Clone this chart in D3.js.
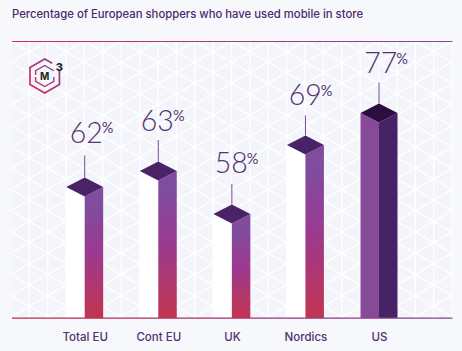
<!DOCTYPE html>
<html>
<head>
<meta charset="utf-8">
<script src="https://cdn.jsdelivr.net/npm/d3@7"></script>
<style>
  html, body { margin: 0; padding: 0; background: #f7f8fb; }
  svg { display: block; }
  .title { font: 500 11.3px "Inter", sans-serif; fill: #4b2a6c; }
  .value { font-family: "Lato", sans-serif; font-weight: 300; font-size: 28.5px; fill: #54336f; }
  .value tspan { font-size: 14.5px; font-weight: 400; }
  .axis text { font: 500 11.5px "Inter", sans-serif; fill: #4f3170; }
  .axis path, .axis line { display: none; }
</style>
</head>
<body>
<svg width="462" height="351"></svg>
<script>
const titleText = "Percentage of European shoppers who have used mobile in store";
const categories = ["Total EU", "Cont EU", "UK", "Nordics", "US"];
const values = [62, 63, 58, 69, 77];
const highlight = "US";

const plot = { left: 12, right: 452.5, top: 42, bottom: 318 };
const halfW = 18.5, halfH = 9.5;
// hand placed in the artwork, so each label has its own offset from the bar centre / top
const labelDx = [6.8, 4.4, 4.7, 5.2, 7];
const labelDy = [35, 31, 31.5, 30.5, 30.5];
const stemLen = [22, 21.5, 20.5, 20, 21];

const svg = d3.select("svg");
const defs = svg.append("defs");

// the artwork isn't drawn to scale, so the bar heights follow a piecewise scale
const y = d3.scaleLinear()
  .domain([0, 58, 62, 63, 69, 77])
  .range([plot.bottom, 214, 187, 171, 145, 113]);
const x = d3.scalePoint().domain(categories).range([84.7, 379]);

// gradients
const barGrad = defs.append("linearGradient")
  .attr("id", "barGrad").attr("x1", 0).attr("y1", 0).attr("x2", 0).attr("y2", 1);
[[0.15, "#7f4c9e"], [0.5, "#9b3a90"], [1, "#c2344f"]].forEach(([o, c]) =>
  barGrad.append("stop").attr("offset", o).attr("stop-color", c));

const ruleColor = d3.scaleLinear()
  .domain([plot.left, (plot.left + plot.right) / 2, plot.right])
  .range(["#c4344c", "#a63a78", "#84489c"]);

const logoGrad = defs.append("linearGradient")
  .attr("id", "logoGrad").attr("gradientUnits", "userSpaceOnUse")
  .attr("x1", -14).attr("y1", 14).attr("x2", 14).attr("y2", -14);
[[0, "#e02b4a"], [1, "#7d3f9c"]].forEach(([o, c]) =>
  logoGrad.append("stop").attr("offset", o).attr("stop-color", c));

defs.append("clipPath").attr("id", "plotClip").append("rect")
  .attr("x", plot.left).attr("y", plot.top)
  .attr("width", plot.right - plot.left).attr("height", plot.bottom - plot.top);

// background + triangle lattice
svg.append("rect").attr("x", plot.left).attr("y", plot.top)
  .attr("width", plot.right - plot.left).attr("height", plot.bottom - plot.top)
  .attr("fill", "#f3f5fb");

const grid = svg.append("g").attr("clip-path", "url(#plotClip)")
  .attr("stroke", "#fff").attr("stroke-width", 1.3).attr("opacity", 0.95);
const stepX = 18.38, stepY = stepX * 2 * Math.tan(Math.PI / 6);
const x0 = 29.3, y0 = 285;
d3.range(0, 24).forEach((k) => {
  const vx = x0 + k * stepX;
  grid.append("line").attr("x1", vx).attr("x2", vx).attr("y1", plot.top).attr("y2", plot.bottom);
});
d3.range(-40, 40).forEach((k) => {
  const b = y0 + k * stepY;
  const run = 500;
  const rise = run * Math.tan(Math.PI / 6);
  grid.append("line").attr("x1", x0 - run).attr("y1", b - rise).attr("x2", x0 + run).attr("y2", b + rise);
  grid.append("line").attr("x1", x0 - run).attr("y1", b + rise).attr("x2", x0 + run).attr("y2", b - rise);
});

// bars
const data = categories.map((c, i) => ({ c, v: values[i], i }));
const poly = (pts) => d3.line()(pts) + "Z";
const bars = svg.selectAll("g.bar").data(data).enter().append("g").attr("class", "bar");

bars.append("path")
  .attr("fill", (d) => (d.c === highlight ? "#874a98" : "#fff"))
  .attr("d", (d) => {
    const m = x(d.c), t = y(d.v);
    return poly([[m - halfW, t], [m, t + halfH], [m, plot.bottom], [m - halfW, plot.bottom]]);
  });
bars.append("path")
  .attr("fill", (d) => (d.c === highlight ? "#472264" : "url(#barGrad)"))
  .attr("d", (d) => {
    const m = x(d.c), t = y(d.v);
    return poly([[m, t + halfH], [m + halfW, t], [m + halfW, plot.bottom], [m, plot.bottom]]);
  });
bars.append("path")
  .attr("fill", (d) => (d.c === highlight ? "#2c0d3f" : "#4a2367"))
  .attr("d", (d) => {
    const m = x(d.c), t = y(d.v);
    return poly([[m - halfW, t], [m, t - halfH], [m + halfW, t], [m, t + halfH]]);
  });
bars.append("line")
  .attr("stroke", "#7a4596").attr("stroke-width", 1)
  .attr("x1", (d) => x(d.c)).attr("x2", (d) => x(d.c))
  .attr("y1", (d) => y(d.v) - halfH)
  .attr("y2", (d) => y(d.v) - halfH - stemLen[d.i]);

const labels = bars.append("text").attr("class", "value")
  .attr("text-anchor", "middle")
  .attr("x", (d) => x(d.c) + labelDx[d.i])
  .attr("y", (d) => y(d.v) - halfH - labelDy[d.i])
  .text((d) => d.v);
labels.append("tspan").attr("dy", -9.5).attr("dx", -1).text("%");

// rules, short segments so the colour can drift along them
const ruleSteps = d3.range(plot.left, plot.right, 4);
[[plot.top - 1, 1], [plot.bottom - 0.5, 1.3]].forEach(([ry, rh]) => {
  svg.append("g").selectAll("rect").data(ruleSteps).enter().append("rect")
    .attr("x", (d) => d).attr("y", ry)
    .attr("width", (d) => Math.min(4, plot.right - d)).attr("height", rh)
    .attr("fill", (d) => ruleColor(d));
});

// category labels
svg.append("g").attr("class", "axis")
  .attr("transform", `translate(0, ${plot.bottom + 9})`)
  .call(d3.axisBottom(x).tickSize(0).tickPadding(6));

// title
svg.append("text").attr("class", "title").attr("x", 12).attr("y", 18).text(titleText);

// m3 logo
const logo = svg.append("g").attr("transform", "translate(44.7, 76)");
const hex = (r) => d3.range(0, 6).map((i) => {
  const a = Math.PI / 3 * i - Math.PI / 2;
  return [r * Math.cos(a), r * Math.sin(a)];
});
const outer = hex(17), inner = hex(10.5);
const stroke = (pts, w) => logo.append("path").attr("d", d3.line()(pts))
  .attr("fill", "none").attr("stroke", "url(#logoGrad)").attr("stroke-width", w);
stroke([[7.5, -12.7], outer[0], outer[5], outer[4], outer[3], outer[2], [outer[2][0], -5]], 1.7);
stroke([[inner[5][0], -1], inner[5], inner[0], inner[1]], 1.4);
stroke([[inner[4][0], 1], inner[4], inner[3], inner[2], [inner[2][0], 1]], 1.4);
logo.append("text").attr("text-anchor", "middle").attr("y", 4)
  .attr("font-family", "Inter, sans-serif").attr("font-weight", 700)
  .attr("font-size", 10).attr("fill", "#231f20").text("M");
logo.append("text").attr("x", 11).attr("y", -5)
  .attr("font-family", "Inter, sans-serif").attr("font-weight", 800)
  .attr("font-size", 11).attr("fill", "#231f20").text("3");
</script>
</body>
</html>
